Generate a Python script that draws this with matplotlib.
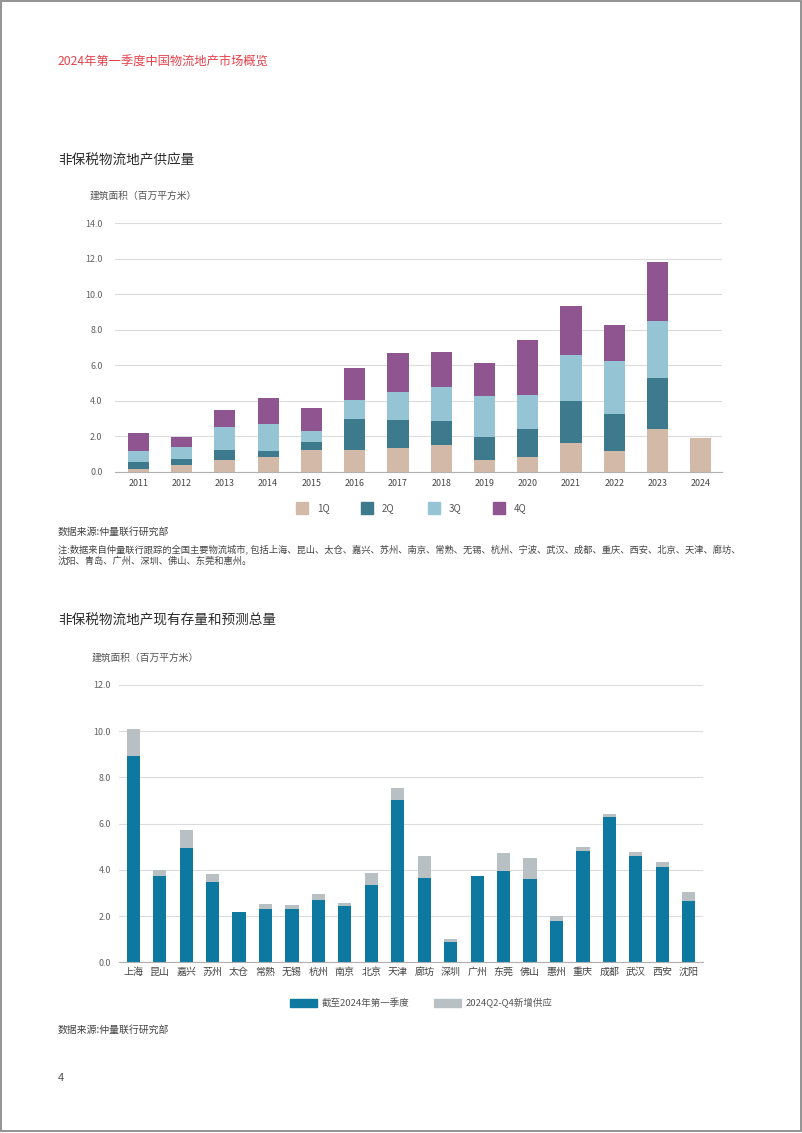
import matplotlib
matplotlib.use('Agg')
import matplotlib.pyplot as plt
from matplotlib.patches import Rectangle
import numpy as np

plt.rcParams['font.family'] = ['Noto Sans CJK SC', 'DejaVu Sans']

# ---- data: chart 1, supply by quarter (million sqm)
years = ['2011', '2012', '2013', '2014', '2015', '2016', '2017',
         '2018', '2019', '2020', '2021', '2022', '2023', '2024']
q1 = [0.13, 0.36, 0.66, 0.81, 1.24, 1.24, 1.32, 1.48, 0.68, 0.83, 1.64, 1.15, 2.41, 1.92]
q2 = [0.43, 0.37, 0.54, 0.37, 0.43, 1.75, 1.57, 1.36, 1.29, 1.56, 2.33, 2.10, 2.89, 0.0]
q3 = [0.59, 0.66, 1.32, 1.49, 0.60, 1.07, 1.60, 1.93, 2.28, 1.91, 2.61, 2.97, 3.20, 0.0]
q4 = [1.01, 0.58, 0.98, 1.48, 1.30, 1.79, 2.18, 1.98, 1.88, 3.14, 2.74, 2.03, 3.34, 0.0]
q_labels = ['1Q', '2Q', '3Q', '4Q']
q_colors = ['#d3baa8', '#3e7a8e', '#95c5d5', '#8e5590']

# ---- data: chart 2, stock and forecast by city (million sqm)
cities = ['上海', '昆山', '嘉兴', '苏州', '太仓', '常熟', '无锡', '杭州', '南京', '北京', '天津',
          '廊坊', '深圳', '广州', '东莞', '佛山', '惠州', '重庆', '成都', '武汉', '西安', '沈阳']
stock = [8.94, 3.72, 4.95, 3.49, 2.18, 2.29, 2.32, 2.70, 2.44, 3.35, 7.04,
         3.66, 0.87, 3.74, 3.97, 3.59, 1.77, 4.83, 6.27, 4.59, 4.11, 2.64]
new_supply = [1.17, 0.28, 0.78, 0.35, 0.0, 0.22, 0.15, 0.26, 0.11, 0.50, 0.49,
              0.93, 0.14, 0.0, 0.75, 0.92, 0.23, 0.15, 0.13, 0.20, 0.22, 0.39]
s_labels = ['截至2024年第一季度', '2024Q2-Q4新增供应']
s_colors = ['#0e79a0', '#b9c0c4']

W, H = 802, 1133
fig = plt.figure(figsize=(W / 100, H / 100), dpi=100)


def fx(x):
    return x / W


def fy(y):
    return 1 - y / H


def ftext(x, y, s, size, color='#444444', **kw):
    fig.text(fx(x), fy(y), s, fontsize=size, color=color, va='center', ha='left', **kw)


def style_axes(ax, ylim, yticks, ypad, xpad):
    ax.set_ylim(ylim)
    ax.set_yticks(yticks)
    ax.set_yticklabels([f'{v:.1f}' for v in yticks])
    for sp in ['top', 'right', 'left']:
        ax.spines[sp].set_visible(False)
    ax.spines['bottom'].set_color('#b0b0b0')
    ax.spines['bottom'].set_linewidth(0.8)
    ax.grid(axis='y', color='#dcdcdc', linewidth=0.8)
    ax.set_axisbelow(True)
    ax.tick_params(axis='y', length=0, pad=ypad, labelsize=6.4, labelcolor='#606060')
    ax.tick_params(axis='x', length=0, pad=xpad, labelcolor='#444444')


# ---- page frame and header
fig.add_artist(Rectangle((fx(1), fy(1131)), fx(800), 1130 / H,
                         transform=fig.transFigure, fill=False,
                         edgecolor='#8a8a8a', linewidth=1.3))
ftext(58, 62, '2024年第一季度中国物流地产市场概览', 8.8, color='#e8404a')

# ---- chart 1
ftext(58, 160, '非保税物流地产供应量', 9.8, color='#2b2b2b')
ftext(90, 196, '建筑面积（百万平方米）', 7, color='#555555')
ax1 = fig.add_axes([fx(115), fy(471.7), fx(722 - 115), (471.7 - 223.3) / H])
xx = np.arange(len(years))
bottom = np.zeros(len(years))
for vals, lab, col in zip([q1, q2, q3, q4], q_labels, q_colors):
    ax1.bar(xx, vals, width=0.49, bottom=bottom, color=col, label=lab, zorder=2)
    bottom += np.array(vals)
ax1.set_xlim(-0.54, len(years) - 1 + 0.49)
ax1.set_xticks(xx)
ax1.set_xticklabels(years, fontsize=6.4)
style_axes(ax1, (0, 14), np.arange(0, 14.1, 2), 9, 5)

leg_x = [296, 361, 428, 493]
for x0, lab, col in zip(leg_x, q_labels, q_colors):
    fig.add_artist(Rectangle((fx(x0), fy(514)), fx(12), 12 / H,
                             transform=fig.transFigure, color=col))
    ftext(x0 + 21, 508, lab, 7, color='#555555')

ftext(58, 532, '数据来源:仲量联行研究部', 7.1, color='#444444')
ftext(58, 549, '注:数据来自仲量联行跟踪的全国主要物流城市, 包括上海、昆山、太仓、嘉兴、苏州、南京、常熟、无锡、杭州、'
      '宁波、武汉、成都、重庆、西安、北京、天津、廊坊、', 6.7, color='#444444')
ftext(58, 561, '沈阳、青岛、广州、深圳、佛山、东莞和惠州。', 6.7, color='#444444')

# ---- chart 2
ftext(58, 620, '非保税物流地产现有存量和预测总量', 9.8, color='#2b2b2b')
ftext(92, 658, '建筑面积（百万平方米）', 7, color='#555555')
ax2 = fig.add_axes([fx(119.3), fy(962.3), fx(702.7 - 119.3), (962.3 - 685) / H])
cx = np.arange(len(cities))
ax2.bar(cx, stock, width=0.5, color=s_colors[0], label=s_labels[0], zorder=2)
ax2.bar(cx, new_supply, width=0.5, bottom=stock, color=s_colors[1], label=s_labels[1], zorder=2)
ax2.set_xlim(-0.53, len(cities) - 1 + 0.53)
ax2.set_xticks(cx)
ax2.set_xticklabels(cities, fontsize=7.2)
style_axes(ax2, (0, 12), np.arange(0, 12.1, 2), 6, 3.5)

for x0, x1, lab, col in zip([290, 434], [322, 466], s_labels, s_colors):
    fig.add_artist(Rectangle((fx(x0), fy(1006.5)), fx(27), 8 / H,
                             transform=fig.transFigure, color=col))
    ftext(x1, 1002.5, lab, 6.8, color='#555555')

ftext(58, 1030, '数据来源:仲量联行研究部', 7.1, color='#444444')
ftext(58, 1078, '4', 8, color='#555555')

fig.savefig('out.png', dpi=100)
